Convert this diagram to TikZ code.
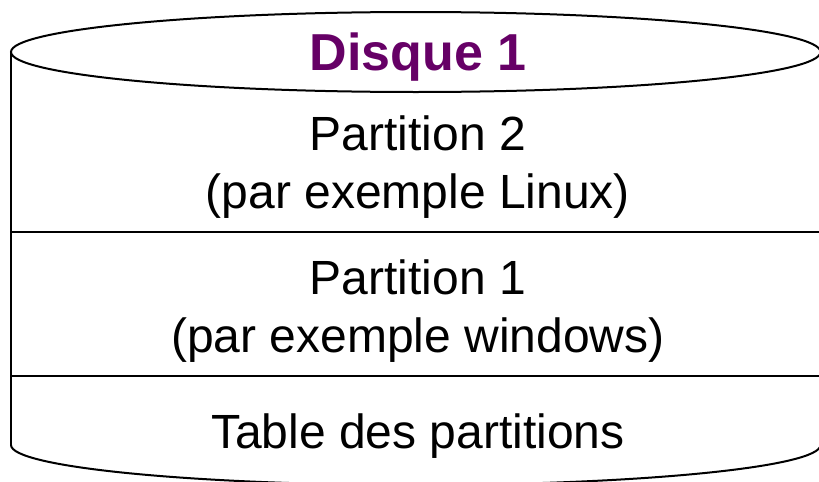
\documentclass[tikz,border=0pt]{standalone}
\usepackage{fontspec}
\setmainfont{Liberation Sans}
\definecolor{disquecolor}{HTML}{660066}
\tikzset{
  disqueline/.style={line width=1.5pt, black},
  parttext/.style={font=\fontsize{36}{43.5}\selectfont, anchor=base, inner sep=0pt},
  titletext/.style={font=\fontsize{39}{47}\selectfont\bfseries, text=disquecolor, anchor=base, inner sep=0pt}
}
\begin{document}
\begin{tikzpicture}[x=0.75pt,y=-0.75pt]
                \useasboundingbox (0,0) rectangle (819,482);
                \begin{scope}
                \clip (0,0) rectangle (819,482);
                
                % Drawing sides of disk
                \draw [disqueline] (11,52) -- (11,445);%
                \draw [disqueline] (820.5,52) -- (820.5,445);%
                
                % Drawing top ellipse
                \draw [disqueline] (415.75,52) ellipse (404.75 and 40);%
                
                % Drawing bottom arc
                \draw [disqueline] (11,445) arc [start angle=180, end angle=360, x radius=404.75, y radius=-40];%
                
                % Drawing separating lines
                \draw [disqueline] (11,232) -- (820.5,232);%
                \draw [disqueline] (11,376) -- (820.5,376);%
                \end{scope}
                
                % Marking title
                \node [titletext] (titre) at (418,70) {Disque 1};%
                
                % Marking partition 2
                \node [parttext] (part2) at (418,150) {Partition 2};%
                \node [parttext] (part2os) at (418,208) {(par exemple Linux)};%
                
                % Marking partition 1
                \node [parttext] (part1) at (418,294) {Partition 1};%
                \node [parttext] (part1os) at (418,352) {(par exemple windows)};%
                
                % Marking partition table
                \node [parttext] (table) at (418,448) {Table des partitions};%
\end{tikzpicture}
\end{document}
